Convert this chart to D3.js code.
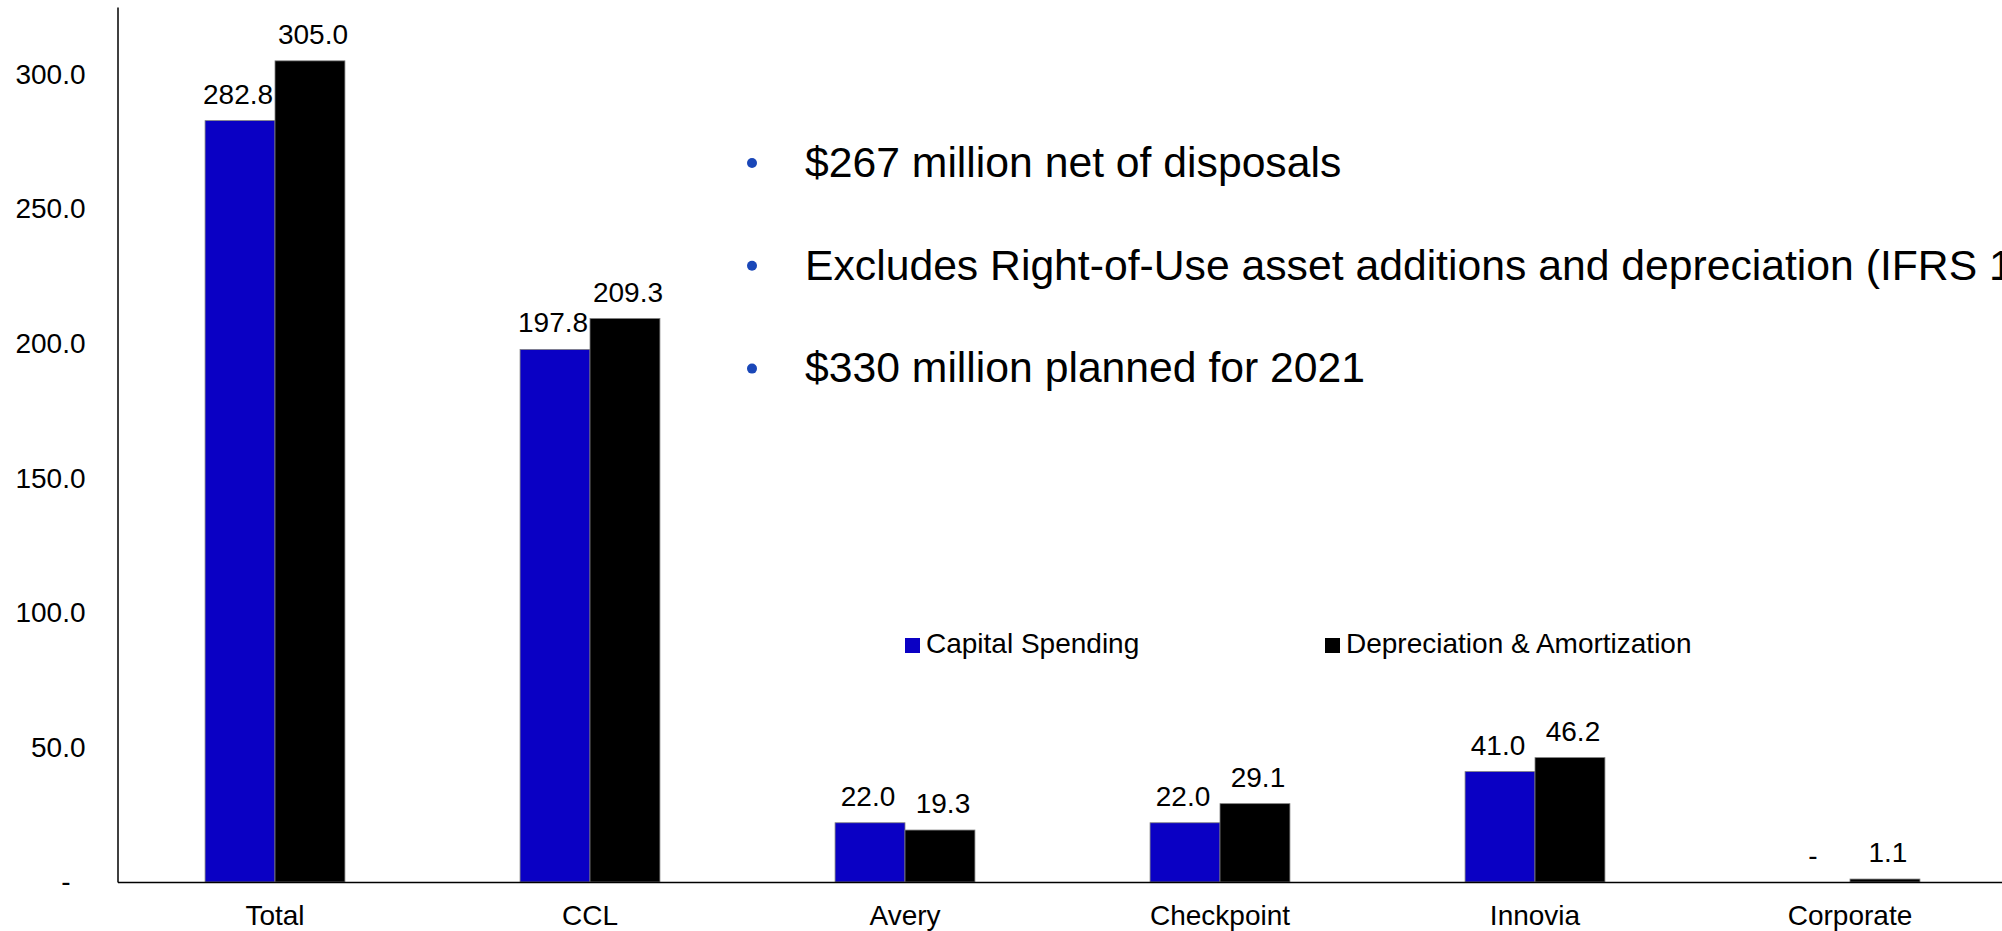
<!DOCTYPE html>
<html>
<head>
<meta charset="utf-8">
<script src="https://cdn.jsdelivr.net/npm/d3@7/dist/d3.min.js"></script>
<style>
  html, body { margin: 0; padding: 0; background: #fff; overflow: hidden; }
  svg { display: block; font-family: "Liberation Sans", Arial, sans-serif; }
</style>
</head>
<body>
<svg id="chart" width="2002" height="931"></svg>
<script>
const categories = ["Total", "CCL", "Avery", "Checkpoint", "Innovia", "Corporate"];
const capitalSpending = [282.8, 197.8, 22.0, 22.0, 41.0, 0];
const depreciation = [305.0, 209.3, 19.3, 29.1, 46.2, 1.1];
const seriesNames = ["Capital Spending", "Depreciation & Amortization"];
const yTicks = [0, 50, 100, 150, 200, 250, 300];
const bullets = [
  "$267 million net of disposals",
  "Excludes Right-of-Use asset additions and depreciation (IFRS 16)",
  "$330 million planned for 2021"
];

const colors = ["#0a00c4", "#000000"];
const svg = d3.select("#chart");

const x = d3.scaleBand().domain(categories).range([117.5, 2007.5])
  .paddingInner(0.556).paddingOuter(0.278);
const x1 = d3.scaleBand().domain([0, 1]).range([0, x.bandwidth()]);
const y = d3.scaleLinear().domain([0, 325]).range([882, 7]);

const fmt = v => v === 0 ? "-" : v.toFixed(1);

// Bars
const rows = categories.map((c, i) => ({ c, vals: [capitalSpending[i], depreciation[i]] }));
const g = svg.append("g");
const grp = g.selectAll("g.grp").data(rows).join("g")
  .attr("transform", d => `translate(${x(d.c)},0)`);
grp.selectAll("rect").data(d => d.vals.map((v, k) => ({ v, k }))).join("rect")
  .attr("x", d => x1(d.k))
  .attr("width", x1.bandwidth())
  .attr("y", d => y(d.v))
  .attr("height", d => y(0) - y(d.v))
  .attr("fill", d => colors[d.k])
  .attr("stroke", d => d.v > 0 ? "#7f7f7f" : "none")
  .attr("stroke-width", 0.8);
grp.selectAll("text").data(d => d.vals.map((v, k) => ({ v, k }))).join("text")
  .attr("x", d => x1(d.k) + x1.bandwidth() / 2 + (d.k === 0 ? -2 : 3))
  .attr("y", d => y(d.v) - 17)
  .attr("text-anchor", "middle")
  .attr("font-size", 28)
  .attr("fill", "#000")
  .text(d => fmt(d.v));

// Y axis
const yAxis = svg.append("g").attr("transform", "translate(117.5,0)")
  .call(d3.axisLeft(y).tickValues(yTicks).tickSize(0).tickSizeOuter(0).tickPadding(32).tickFormat(fmt));
yAxis.select(".domain").attr("stroke", "#000").attr("stroke-width", 1.5);
yAxis.selectAll("text").attr("font-size", 28).attr("fill", "#000")
  .attr("font-family", "Liberation Sans, Arial, sans-serif")
  .attr("dx", d => d === 0 ? -15 : 0);

// X axis
const xAxis = svg.append("g").attr("transform", "translate(0,882)")
  .call(d3.axisBottom(x).tickSize(0).tickSizeOuter(0).tickPadding(23));
xAxis.select(".domain").attr("stroke", "#000").attr("stroke-width", 1.5);
xAxis.selectAll("text").attr("font-size", 28).attr("fill", "#000")
  .attr("font-family", "Liberation Sans, Arial, sans-serif");

// Legend
const legendX = [905, 1325];
const lg = svg.append("g").selectAll("g").data(seriesNames).join("g")
  .attr("transform", (d, i) => `translate(${legendX[i]},638)`);
lg.append("rect").attr("width", 15).attr("height", 15).attr("fill", (d, i) => colors[i]);
lg.append("text").attr("x", 21).attr("y", 15.3).attr("font-size", 28).attr("fill", "#000").text(d => d);

// Bullets
const bl = svg.append("g").selectAll("g").data(bullets).join("g")
  .attr("transform", (d, i) => `translate(0,${176.7 + i * 102.8})`);
bl.append("circle").attr("cx", 752).attr("cy", -13.7).attr("r", 5).attr("fill", "#1a47b8");
bl.append("text").attr("x", 805).attr("y", 0).attr("font-size", 42.7).attr("fill", "#000").text(d => d);
</script>
</body>
</html>
